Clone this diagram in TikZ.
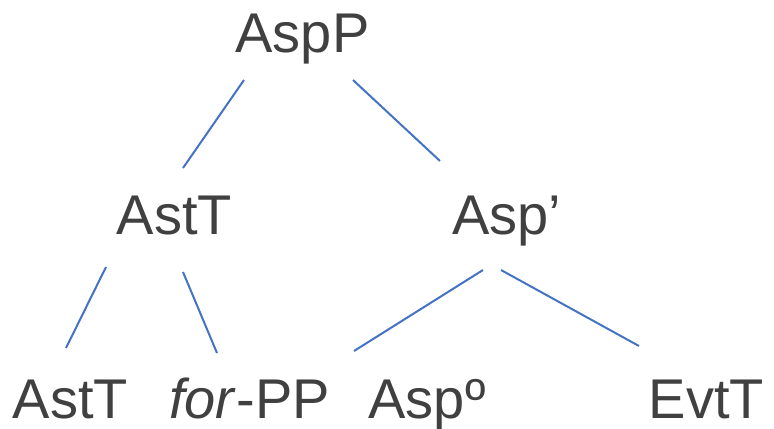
\documentclass[tikz,border=0pt]{standalone}
\usepackage{fontspec}
\setmainfont{Liberation Sans}
\definecolor{txt}{HTML}{404040}
\definecolor{edge}{HTML}{4472C4}
\begin{document}
\begin{tikzpicture}[x=1bp,y=-1bp,
  lbl/.style={inner sep=0pt, anchor=base, text=txt, font=\fontsize{56.2}{60}\selectfont},
  branch/.style={draw=edge, line width=2bp}]
\useasboundingbox (0,0) rectangle (774,428);
% labels
\node[lbl] (aspp) at (302.5,52) {AspP};
\node[lbl] (astt1) at (174.5,234) {AstT};
\node[lbl] (aspbar) at (506.5,234) {Asp’};
\node[lbl] (astt2) at (70.5,418) {AstT};
\node[lbl] (forpp) at (249.5,418) {\textit{for}-PP};
\node[lbl] (asp0) at (427,418) {Aspº};
\node[lbl] (evtt) at (706.5,418) {EvtT};
% connector ends
\coordinate (c1a) at (244,80);  \coordinate (c1b) at (183,168);
\coordinate (c2a) at (353,80);  \coordinate (c2b) at (440,161);
\coordinate (c3a) at (106,267); \coordinate (c3b) at (66,348);
\coordinate (c4a) at (183,272); \coordinate (c4b) at (217,353);
\coordinate (c5a) at (483,270); \coordinate (c5b) at (354,351);
\coordinate (c6a) at (501,270); \coordinate (c6b) at (639,346);
% connectors
\draw[branch] (c1a) -- (c1b);
\draw[branch] (c2a) -- (c2b);
\draw[branch] (c3a) -- (c3b);
\draw[branch] (c4a) -- (c4b);
\draw[branch] (c5a) -- (c5b);
\draw[branch] (c6a) -- (c6b);
\end{tikzpicture}
\end{document}
